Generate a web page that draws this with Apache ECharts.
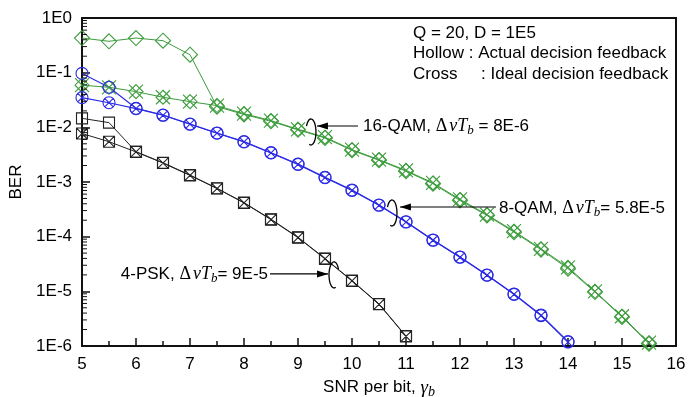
<!DOCTYPE html>
<html><head><meta charset="utf-8">
<script src="https://cdn.jsdelivr.net/npm/echarts@6/dist/echarts.min.js"></script>
<style>html,body{margin:0;padding:0;background:#fff}#c{width:688px;height:397px}</style>
</head><body><div id="c"></div>
<script>
// ---- data ----
const snr16 = [5,5.5,6,6.5,7,7.5,8,8.5,9,9.5,10,10.5,11,11.5,12,12.5,13,13.5,14,14.5,15,15.5];
const qam16Actual = [0.43,0.375,0.43,0.385,0.213,0.0239,0.0172,0.0129,0.0090,0.0064,0.0038,0.0025,0.00158,0.00093,0.00046,0.000245,0.000121,5.8e-5,2.6e-5,9.7e-6,3.4e-6,1.1e-6];
const qam16Ideal  = [0.059,0.054,0.045,0.0355,0.0295,0.0250,0.0178,0.0133,0.0092,0.0066,0.0039,0.00256,0.00163,0.00096,0.00048,0.000253,0.000126,6.0e-5,2.75e-5,1.0e-5,3.5e-6,1.15e-6];

const snr8 = [5,5.5,6,6.5,7,7.5,8,8.5,9,9.5,10,10.5,11,11.5,12,12.5,13,13.5,14];
const qam8Actual = [0.097,0.054,0.0223,0.0168,0.0115,0.0079,0.0055,0.00344,0.00213,0.00122,0.000714,0.00038,0.000188,8.7e-5,4.25e-5,1.99e-5,8.95e-6,3.69e-6,1.2e-6];
const qam8Ideal  = [0.0349,0.0282,0.0220,0.0166,0.0114,0.0078,0.0054,0.0034,0.0021,0.0012,0.0007,0.000375,0.000185,8.6e-5,4.2e-5,1.97e-5,8.8e-6,3.6e-6,1.18e-6];

const snr4 = [5,5.5,6,6.5,7,7.5,8,8.5,9,9.5,10,10.5,11];
const psk4Actual = [0.0146,0.0122,0.00358,0.00225,0.00134,0.000767,0.000419,0.000208,9.75e-5,3.99e-5,1.57e-5,5.87e-6,1.52e-6];
const psk4Ideal  = [0.0077,0.00546,0.00355,0.00222,0.00132,0.00076,0.000414,0.000205,9.6e-5,3.93e-5,1.55e-5,5.8e-6,1.5e-6];

const xTicks = [5,6,7,8,9,10,11,12,13,14,15,16];
const yTickLabels = ['1E-6','1E-5','1E-4','1E-3','1E-2','1E-1','1E0'];
const infoLines = ['Q = 20, D = 1E5','Hollow : Actual decision feedback','Cross     : Ideal decision feedback'];

// ---- style ----
const GREEN = '#3c9c3c', BLUE = '#2a2ae6', BLACK = '#222222';
const FONT = '"Liberation Sans", Arial, sans-serif';
const SERIF = '"Liberation Serif", "Times New Roman", serif';

const SYM = {
  diamond: 'path://M5,0 L10,5 L5,10 L0,5 Z',
  diamondX: 'path://M5,0 L10,5 L5,10 L0,5 Z M0,0 L10,10 M10,0 L0,10',
  circle: 'path://M0,5 A5,5 0 1 1 10,5 A5,5 0 1 1 0,5 Z',
  circleX: 'path://M0,5 A5,5 0 1 1 10,5 A5,5 0 1 1 0,5 Z M1.46,1.46 L8.54,8.54 M8.54,1.46 L1.46,8.54',
  square: 'path://M0,0 L10,0 L10,10 L0,10 Z',
  squareX: 'path://M0,0 L10,0 L10,10 L0,10 Z M0,0 L10,10 M10,0 L0,10'
};

function pairs(xs, ys){ return xs.map((x,i)=>[x, ys[i]]); }
function mkSeries(name, xs, ys, color, sym, size, lw){
  return {
    name, type:'line', data: pairs(xs, ys),
    symbol: SYM[sym], symbolSize: size, symbolKeepAspect: true,
    lineStyle: {color, width: lw},
    itemStyle: {color: 'rgba(0,0,0,0)', borderColor: color, borderWidth: 1.1},
    emphasis: {disabled: true}, animation: false
  };
}

const chart = echarts.init(document.getElementById('c'), null, {renderer:'canvas'});
chart.setOption({
  animation: false,
  backgroundColor: '#fff',
  grid: {left: 82, right: 12, top: 18, bottom: 51, show: true, borderColor: '#111', borderWidth: 2,
         backgroundColor: 'transparent', containLabel: false, outerBoundsMode: 'none'},
  xAxis: {
    type: 'value', min: 5, max: 16, interval: 1,
    name: '{a|SNR per bit, }{g|γ}{s|b}', nameLocation: 'middle', nameGap: 30,
    nameTextStyle: {rich: {
      a: {fontFamily: FONT, fontSize: 17, color: '#000'},
      g: {fontFamily: SERIF, fontStyle: 'italic', fontSize: 19, color: '#000'},
      s: {fontFamily: SERIF, fontStyle: 'italic', fontSize: 14, color: '#000', padding: [9,0,0,0]}
    }},
    axisLine: {lineStyle: {color: '#111', width: 2}},
    axisTick: {inside: true, length: 8, lineStyle: {color: '#111', width: 1.5}},
    minorTick: {show: true, splitNumber: 2, length: 5, lineStyle: {color: '#111', width: 1.5}},
    axisLabel: {fontFamily: FONT, fontSize: 17, color: '#000', margin: 10,
      formatter: v => xTicks.includes(v) ? String(v) : ''},
    splitLine: {show: false}
  },
  yAxis: {
    type: 'log', logBase: 10, min: 1e-6, max: 1,
    name: 'BER', nameLocation: 'middle', nameGap: 49,
    nameTextStyle: {fontFamily: FONT, fontSize: 17, color: '#000'},
    axisLine: {lineStyle: {color: '#111', width: 2}},
    axisTick: {inside: true, length: 8, lineStyle: {color: '#111', width: 1.5}},
    axisLabel: {fontFamily: FONT, fontSize: 17, color: '#000', margin: 10,
      formatter: v => yTickLabels[Math.round(Math.log10(v)) + 6]},
    splitLine: {show: false}
  },
  series: [
    mkSeries('16-QAM ideal', snr16, qam16Ideal, GREEN, 'diamondX', 14, 1),
    mkSeries('16-QAM actual', snr16, qam16Actual, GREEN, 'diamond', 15, 1),
    mkSeries('8-QAM ideal', snr8, qam8Ideal, BLUE, 'circleX', 12, 1.1),
    mkSeries('8-QAM actual', snr8, qam8Actual, BLUE, 'circle', 12, 1.1),
    mkSeries('4-PSK ideal', snr4, psk4Ideal, BLACK, 'squareX', 11, 1),
    mkSeries('4-PSK actual', snr4, psk4Actual, BLACK, 'square', 11, 1)
  ]
});

const graphics = [];
// log-spaced minor ticks on the y axis (2..9 x 10^n)
const axisX = chart.convertToPixel({xAxisIndex: 0}, 5);
for (let n = -6; n < 0; n++) for (let k = 2; k <= 9; k++) {
  const y = chart.convertToPixel({yAxisIndex: 0}, k * Math.pow(10, n));
  graphics.push({type:'line', shape:{x1: axisX, y1: y, x2: axisX + 5, y2: y}, style:{stroke:'#111', lineWidth:1}, z:50});
}

// ---- annotations ----
const richStyle = {
  a: {fontFamily: FONT, fontSize: 17, color: '#000'},
  d: {fontFamily: SERIF, fontSize: 18, color: '#000', padding: [0,2,0,0]},
  i: {fontFamily: SERIF, fontStyle: 'italic', fontSize: 18, color: '#000'},
  s: {fontFamily: SERIF, fontStyle: 'italic', fontSize: 13, color: '#000', padding: [9,0,0,0]}
};
const annots = [
  {at: [9.24, Math.pow(10,-2.085)], dir: 1, tip: [6,-6], tail: [47,-6], textAt: [52,-6], align: 'left',
   text: '{a|16-QAM, }{d|Δ}{i|νT}{s|b}{a| = 8E-6}'},
  {at: [10.74, Math.pow(10,-3.567)], dir: 1, tip: [8,-6], tail: [104,-6], textAt: [107,-5], align: 'left',
   text: '{a|8-QAM, }{d|Δ}{i|νT}{s|b}{a|= 5.8E-5}'},
  {at: [9.667, Math.pow(10,-4.70)], dir: -1, tip: [-6,-1], tail: [-64,-1], textAt: [-66,-1], align: 'right',
   text: '{a|4-PSK, }{d|Δ}{i|νT}{s|b}{a|= 9E-5}'}
];
annots.forEach(a => {
  const p = chart.convertToPixel({gridIndex: 0}, a.at);
  const cx = p[0], cy = p[1];
  const pts = [];
  const rx = 5, ry = 13;
  for (let t = -0.85*Math.PI; t <= 0.62*Math.PI; t += Math.PI/24) {
    pts.push([cx + a.dir*rx*Math.cos(t), cy + ry*Math.sin(t)]);
  }
  graphics.push({type:'polyline', shape:{points: pts, smooth: 0.3}, style:{stroke:'#000', lineWidth:1.3, fill:null}, z:100});
  const tip = [cx + a.tip[0], cy + a.tip[1]], tail = [cx + a.tail[0], cy + a.tail[1]];
  graphics.push({type:'line', shape:{x1: tail[0], y1: tail[1], x2: tip[0], y2: tip[1]}, style:{stroke:'#000', lineWidth:1.2}, z:100});
  const s = Math.sign(tail[0]-tip[0]);
  graphics.push({type:'polygon', shape:{points:[tip, [tip[0]+s*11, tip[1]-3.5], [tip[0]+s*11, tip[1]+3.5]]}, style:{fill:'#000'}, z:100});
  graphics.push({type:'text', x: cx + a.textAt[0], y: cy + a.textAt[1], z:100,
    style:{text: a.text, rich: richStyle, align: a.align, verticalAlign: 'middle', fill:'#000'}});
});
infoLines.forEach((t, i) => {
  graphics.push({type:'text', x: 413, y: 33 + i*20.5, z:100,
    style:{text: t, font: '17px ' + FONT, fill:'#000', align:'left', verticalAlign:'middle'}});
});
chart.setOption({graphic: graphics});
</script></body></html>
